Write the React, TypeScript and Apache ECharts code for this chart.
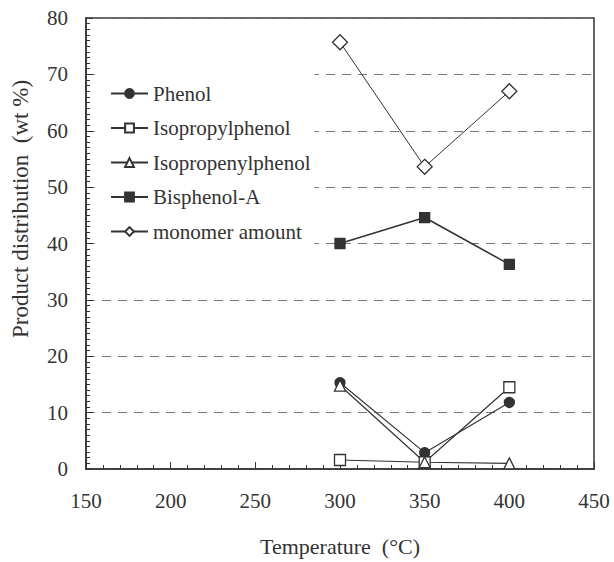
import React, { useEffect, useRef } from "react";
import * as echarts from "echarts";

const temperatures = [300, 350, 400];
const phenol = [15.3, 2.9, 11.8];
const isopropylphenol = [1.6, 1.2, 14.5];
const isopropenylphenol = [14.8, 1.2, 1.0];
const bisphenolA = [40.0, 44.6, 36.3];
const monomerAmount = [75.7, 53.6, 67.0];

const FONT = "'Liberation Serif', 'DejaVu Serif', serif";
const INK = "#333";

function pairs(vals: number[]) {
  return temperatures.map((t, i) => [t, vals[i]]);
}

export default function App() {
  const ref = useRef<HTMLDivElement>(null);
  useEffect(() => {
    if (!ref.current) return;
    const chart = echarts.init(ref.current, null, { renderer: "svg" });
    const mk = (
      name: string,
      vals: number[],
      symbol: string,
      size: number | number[],
      filled: boolean,
      width = 1.2
    ) => ({
      name,
      type: "line",
      data: pairs(vals),
      symbol,
      symbolSize: size,
      showAllSymbol: true,
      lineStyle: { color: INK, width },
      itemStyle: {
        color: filled ? INK : "#fff",
        borderColor: INK,
        borderWidth: 1.3,
      },
      z: 3,
    });
    chart.setOption({
      animation: false,
      backgroundColor: "#fff",
      grid: {
        left: 86,
        right: 20,
        top: 18,
        bottom: 90,
        show: true,
        borderColor: INK,
        borderWidth: 1.5,
      },
      legend: {
        orient: "vertical",
        left: 100,
        top: 73,
        itemWidth: 37,
        itemHeight: 11,
        itemGap: 13.5,
        backgroundColor: "#fff",
        padding: [10, 4, 8, 10],
        textStyle: { fontFamily: FONT, fontSize: 21, color: INK },
        data: [
          "Phenol",
          "Isopropylphenol",
          "Isopropenylphenol",
          "Bisphenol-A",
          "monomer amount",
        ],
      },
      graphic: [
        {
          type: "text",
          x: 20,
          y: 209,
          rotation: Math.PI / 2,
          style: {
            text: "Product distribution  (wt %)",
            font: `23px ${FONT}`,
            fill: INK,
            align: "center",
            verticalAlign: "middle",
          },
        },
      ],
      xAxis: {
        type: "value",
        min: 150,
        max: 450,
        interval: 50,
        name: "Temperature  (°C)",
        nameLocation: "middle",
        nameGap: 66,
        nameTextStyle: { fontFamily: FONT, fontSize: 22, color: INK },
        axisLine: { lineStyle: { color: INK, width: 1.5 } },
        axisTick: { inside: true, length: 7, lineStyle: { color: INK } },
        minorTick: { show: true, splitNumber: 5, length: 4, lineStyle: { color: INK } },
        axisLabel: { margin: 21, fontFamily: FONT, fontSize: 21, color: INK },
        splitLine: { show: false },
      },
      yAxis: {
        type: "value",
        min: 0,
        max: 80,
        interval: 10,
        axisLine: { lineStyle: { color: INK, width: 1.5 } },
        axisTick: { inside: true, length: 7, lineStyle: { color: INK } },
        minorTick: { show: true, splitNumber: 10, length: 4, lineStyle: { color: INK } },
        axisLabel: { margin: 18, fontFamily: FONT, fontSize: 21, color: INK },
        splitLine: {
          show: true,
          lineStyle: { color: "#777", type: [9, 7], width: 1 },
        },
      },
      series: [
        mk("Phenol", phenol, "circle", 10, true),
        mk("Isopropylphenol", isopropylphenol, "rect", 11, false),
        mk("Isopropenylphenol", isopropenylphenol, "triangle", 11, false),
        mk("Bisphenol-A", bisphenolA, "rect", 10, true, 1.6),
        mk("monomer amount", monomerAmount, "diamond", 15, false, 1),
      ],
    });
    return () => chart.dispose();
  }, []);
  return (
    <div
      ref={ref}
      style={{ position: "fixed", left: 0, top: 0, width: 614, height: 562 }}
    />
  );
}
